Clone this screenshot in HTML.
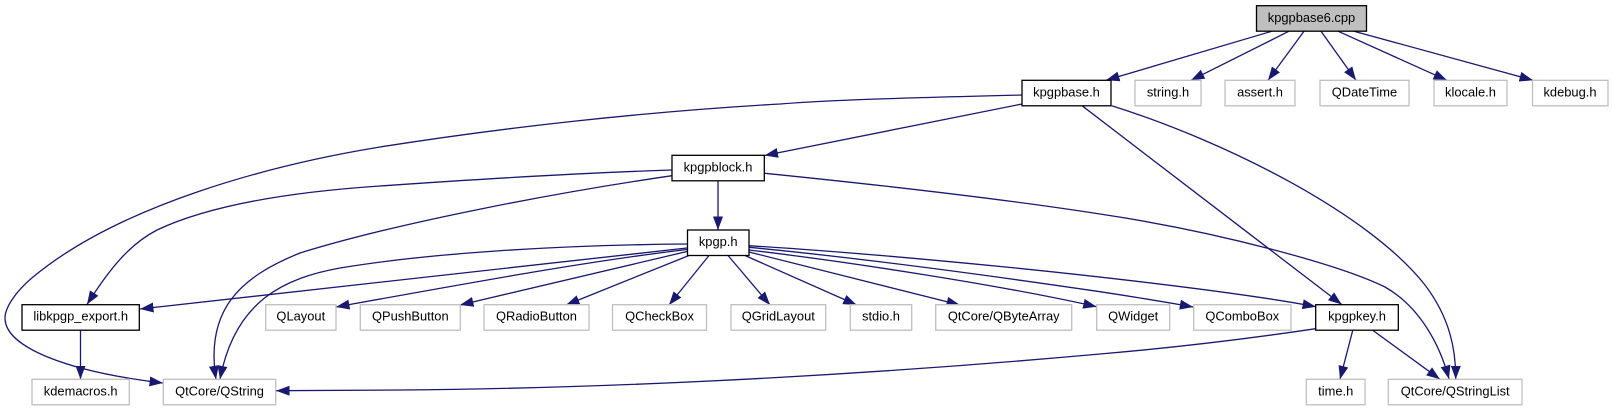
<!DOCTYPE html>
<html><head><meta charset="utf-8"><style>
html,body{margin:0;padding:0;background:#fff}
svg{display:block}
text{font-family:"Liberation Sans",sans-serif;font-size:12.900px;text-anchor:middle;fill:#000}
.e path,.e line{fill:none;stroke:#191970;stroke-width:1.3;marker-end:url(#a)}
.g{fill:#fff;stroke:#bfbfbf;stroke-width:1.3}
.b{fill:#fff;stroke:#000;stroke-width:1.3}
</style></head><body>
<svg xmlns="http://www.w3.org/2000/svg" width="1612" height="411" viewBox="0 0 1612 411">
<defs><marker id="a" markerUnits="userSpaceOnUse" markerWidth="16" markerHeight="12" refX="13.500" refY="5" orient="auto"><path d="M0,0L13.500,5L0,10Z" fill="#191970"/></marker></defs>
<g class="e">
<line x1="1272" y1="31.200" x2="1106" y2="80.300"/>
<line x1="1289" y1="31.200" x2="1191" y2="80.300"/>
<line x1="1304" y1="31.200" x2="1268" y2="80.300"/>
<line x1="1321" y1="31.200" x2="1356" y2="80.300"/>
<line x1="1338" y1="31.200" x2="1447" y2="80.300"/>
<line x1="1354" y1="31.200" x2="1533" y2="80.300"/>
<path d="M1022,95C900,98 830,100 780,104C640,112 500,128 380,147C270,165 120,205 33,277C15,292 5,308 5,318C5,348 70,372 163,383"/>
<line x1="1022" y1="104" x2="764.500" y2="155.500"/>
<line x1="1082" y1="105.700" x2="1341.700" y2="304.500"/>
<path d="M1111.700,105.700C1230,143 1370,215 1425,285C1450,318 1456,350 1455.700,379.300"/>
<path d="M765,173.300C900,187 1010,200 1100,214C1220,232 1340,265 1385,287C1420,307 1440,345 1449,379"/>
<line x1="718" y1="180.700" x2="718" y2="230"/>
<path d="M672,170C580,173 480,179 380,186C290,192 210,205 157,230C130,244 110,268 87,304.500"/>
<path d="M672,175.700C560,192 400,222 300,253C240,277 205,310 216,379.300"/>
<path d="M687,244C560,245 430,253 340,268C285,278 235,300 220,379.300"/>
<line x1="687" y1="248" x2="140" y2="309"/>
<path d="M687,249.500C590,261 480,281 336,307"/>
<line x1="687" y1="251.500" x2="460" y2="305"/>
<line x1="689" y1="255.500" x2="566" y2="305"/>
<line x1="709" y1="255.500" x2="669" y2="305"/>
<line x1="728" y1="255.500" x2="770" y2="305"/>
<line x1="745" y1="255.500" x2="856.700" y2="305"/>
<line x1="749" y1="252" x2="960" y2="305"/>
<path d="M749,250C850,262 1000,285 1096.700,306.700"/>
<path d="M749,247.300C860,258 1000,277 1100,291.700C1135,297 1165,302 1193.300,307"/>
<path d="M749,245.700C850,252 1000,265 1140,281.700C1210,290 1270,298 1316,306.700"/>
<path d="M1315.700,328.700C1240,340 1170,348 1100,354C900,372 650,388 400,390C360,390.500 320,390.700 276,390.700"/>
<line x1="1352.700" y1="330.500" x2="1340" y2="379.300"/>
<line x1="1373" y1="330.500" x2="1440" y2="379.300"/>
<line x1="80.500" y1="330.500" x2="80.500" y2="379.300"/>
</g>
<rect x="1256.500" y="5.700" width="110" height="25.500" fill="#bfbfbf" stroke="#000" stroke-width="1.3"/><text x="1311.500" y="21.800">kpgpbase6.cpp</text>
<rect class="b" x="1022" y="80.300" width="89" height="25.500"/><text x="1066.500" y="96.400">kpgpbase.h</text>
<rect class="g" x="1135" y="80.300" width="66" height="25.500"/><text x="1168" y="96.400">string.h</text>
<rect class="g" x="1225" y="80.300" width="70" height="25.500"/><text x="1260" y="96.400">assert.h</text>
<rect class="g" x="1320" y="80.300" width="89" height="25.500"/><text x="1364.500" y="96.400">QDateTime</text>
<rect class="g" x="1434" y="80.300" width="73" height="25.500"/><text x="1470.500" y="96.400">klocale.h</text>
<rect class="g" x="1532.500" y="80.300" width="75.500" height="25.500"/><text x="1570" y="96.400">kdebug.h</text>
<rect class="b" x="672" y="155.300" width="92.300" height="25.500"/><text x="718" y="171.300">kpgpblock.h</text>
<rect class="b" x="687.500" y="230" width="61.500" height="25.500"/><text x="718.200" y="246">kpgp.h</text>
<rect class="b" x="22" y="304.700" width="117.300" height="25.500"/><text x="80.700" y="320.700">libkpgp_export.h</text>
<rect class="g" x="265.700" y="304.700" width="70.300" height="25.500"/><text x="300.800" y="320.700">QLayout</text>
<rect class="g" x="360.300" y="304.700" width="100" height="25.500"/><text x="410.300" y="320.700">QPushButton</text>
<rect class="g" x="484" y="304.700" width="105" height="25.500"/><text x="536.500" y="320.700">QRadioButton</text>
<rect class="g" x="612.500" y="304.700" width="94" height="25.500"/><text x="659.500" y="320.700">QCheckBox</text>
<rect class="g" x="731" y="304.700" width="94.700" height="25.500"/><text x="778.300" y="320.700">QGridLayout</text>
<rect class="g" x="850.300" y="304.700" width="61.400" height="25.500"/><text x="881" y="320.700">stdio.h</text>
<rect class="g" x="935.700" y="304.700" width="136" height="25.500"/><text x="1003.700" y="320.700">QtCore/QByteArray</text>
<rect class="g" x="1096.700" y="304.700" width="73" height="25.500"/><text x="1133.200" y="320.700">QWidget</text>
<rect class="g" x="1193.700" y="304.700" width="97.300" height="25.500"/><text x="1242.300" y="320.700">QComboBox</text>
<rect class="b" x="1315.700" y="304.700" width="82.600" height="25.500"/><text x="1357" y="320.700">kpgpkey.h</text>
<rect class="g" x="32" y="379.300" width="97.300" height="25.500"/><text x="80.700" y="395.300">kdemacros.h</text>
<rect class="g" x="163.300" y="379.300" width="112.400" height="25.500"/><text x="219.500" y="395.300">QtCore/QString</text>
<rect class="g" x="1306.300" y="379.300" width="58.700" height="25.500"/><text x="1335.700" y="395.300">time.h</text>
<rect class="g" x="1388.300" y="379.300" width="133.700" height="25.500"/><text x="1455.200" y="395.300">QtCore/QStringList</text>
</svg>
</body></html>
